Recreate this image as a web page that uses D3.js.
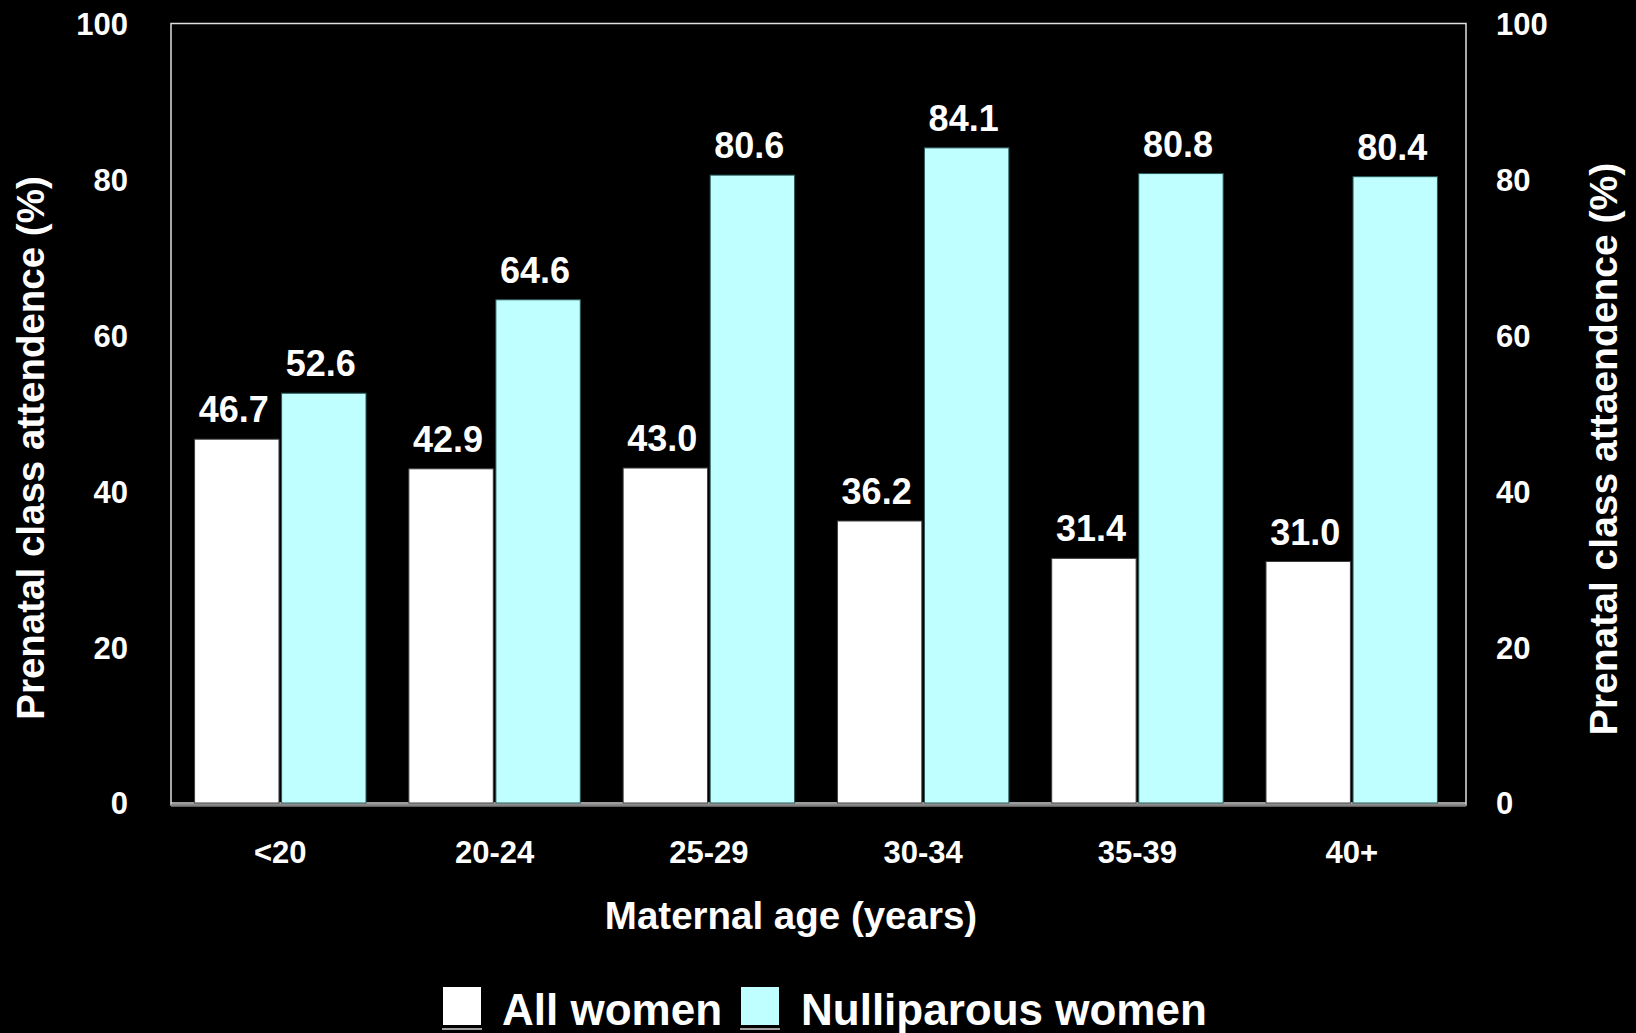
<!DOCTYPE html>
<html>
<head>
<meta charset="utf-8">
<script src="https://cdn.jsdelivr.net/npm/d3@7"></script>
<style>
  html, body { margin: 0; padding: 0; background: #000; }
  svg { display: block; }
  text { font-family: "Liberation Sans", Arial, sans-serif; font-weight: bold; fill: #fff; }
</style>
</head>
<body>
<script>
const categories = ["<20", "20-24", "25-29", "30-34", "35-39", "40+"];
const seriesNames = ["All women", "Nulliparous women"];
const allWomen = [46.7, 42.9, 43.0, 36.2, 31.4, 31.0];
const nulliparousWomen = [52.6, 64.6, 80.6, 84.1, 80.8, 80.4];
const yTicks = [0, 20, 40, 60, 80, 100];
const seriesColors = ["#ffffff", "#c0ffff"];
const xTitle = "Maternal age (years)";
const yTitleLeft = "Prenatal class attendence (%)";
const yTitleRight = "Prenatal class attaendence (%)";

const W = 1636, H = 1033;
const plot = { left: 171, right: 1466, top: 23.5, bottom: 805 };

const svg = d3.select("body").append("svg").attr("width", W).attr("height", H);
svg.append("rect").attr("width", W).attr("height", H).attr("fill", "#000");

const x0 = d3.scaleBand().domain(categories).range([plot.left, plot.right - 5])
  .paddingInner(0.2).paddingOuter(0.11);
const x1 = d3.scaleBand().domain(seriesNames).range([0, x0.bandwidth()]).paddingInner(0.03);
const y = d3.scaleLinear().domain([0, 100]).range([803, 24]);

// frame
svg.append("rect")
  .attr("x", plot.left).attr("y", plot.top)
  .attr("width", plot.right - plot.left).attr("height", plot.bottom - plot.top)
  .attr("fill", "none").attr("stroke", "#e0e0e0").attr("stroke-width", 1.5);
svg.append("line")
  .attr("x1", plot.left).attr("x2", plot.right)
  .attr("y1", 803).attr("y2", 803)
  .attr("stroke", "#d0d0d0").attr("stroke-width", 1.5);
svg.append("line")
  .attr("x1", plot.left).attr("x2", plot.right)
  .attr("y1", 805.5).attr("y2", 805.5)
  .attr("stroke", "#808080").attr("stroke-width", 2.5);

const rows = categories.map((c, i) => ({ cat: c, vals: [allWomen[i], nulliparousWomen[i]] }));

const g = svg.append("g");
rows.forEach(r => {
  r.vals.forEach((v, j) => {
    const bx = x0(r.cat) + x1(seriesNames[j]);
    g.append("rect")
      .attr("x", bx).attr("y", y(v))
      .attr("width", x1.bandwidth()).attr("height", y(0) - y(v))
      .attr("fill", seriesColors[j])
      .attr("stroke", j === 0 ? "#404040" : "#2a5a5a").attr("stroke-width", 1);
    g.append("text")
      .attr("x", bx + x1.bandwidth() / 2 - 3).attr("y", y(v) - 17)
      .attr("text-anchor", "middle")
      .style("font-size", "36px")
      .text(v.toFixed(1));
  });
});

// y axis left
const yAxisL = d3.axisLeft(y).tickValues(yTicks).tickSize(0).tickPadding(0);
const gL = svg.append("g").attr("transform", "translate(128,0)").call(yAxisL);
gL.select(".domain").remove();
gL.selectAll("text").style("font-size", "31px").attr("fill", "#fff").attr("dy", "0.35em").attr("x", 0);

// y axis right
const yAxisR = d3.axisRight(y).tickValues(yTicks).tickSize(0).tickPadding(0);
const gR = svg.append("g").attr("transform", "translate(1496,0)").call(yAxisR);
gR.select(".domain").remove();
gR.selectAll("text").style("font-size", "31px").attr("fill", "#fff").attr("dy", "0.35em").attr("x", 0);

// x axis
const xAxis = d3.axisBottom(x0).tickSize(0).tickPadding(0);
const gX = svg.append("g").attr("transform", "translate(0,863)").call(xAxis);
gX.select(".domain").remove();
gX.selectAll("text").style("font-size", "31px").attr("fill", "#fff").attr("dy", "0").attr("y", 0);

// titles
svg.append("text").attr("x", 791).attr("y", 929).attr("text-anchor", "middle")
  .style("font-size", "38.5px").text(xTitle);
svg.append("text").attr("transform", "translate(44,448) rotate(-90)")
  .attr("text-anchor", "middle").style("font-size", "38.5px").text(yTitleLeft);
svg.append("text").attr("transform", "translate(1617,449) rotate(-90)")
  .attr("text-anchor", "middle").style("font-size", "39px").text(yTitleRight);

// legend
const legendX = [443, 741];
const legendTextX = [502, 801];
seriesNames.forEach((n, j) => {
  svg.append("rect").attr("x", legendX[j]).attr("y", 987).attr("width", 38).attr("height", 38)
    .attr("fill", seriesColors[j]);
  svg.append("line").attr("x1", legendX[j] - 1).attr("x2", legendX[j] + 39)
    .attr("y1", 1029).attr("y2", 1029).attr("stroke", "#a0a0a0").attr("stroke-width", 2);
  svg.append("text").attr("x", legendTextX[j]).attr("y", 1025)
    .style("font-size", "44px").text(n);
});
</script>
</body>
</html>
